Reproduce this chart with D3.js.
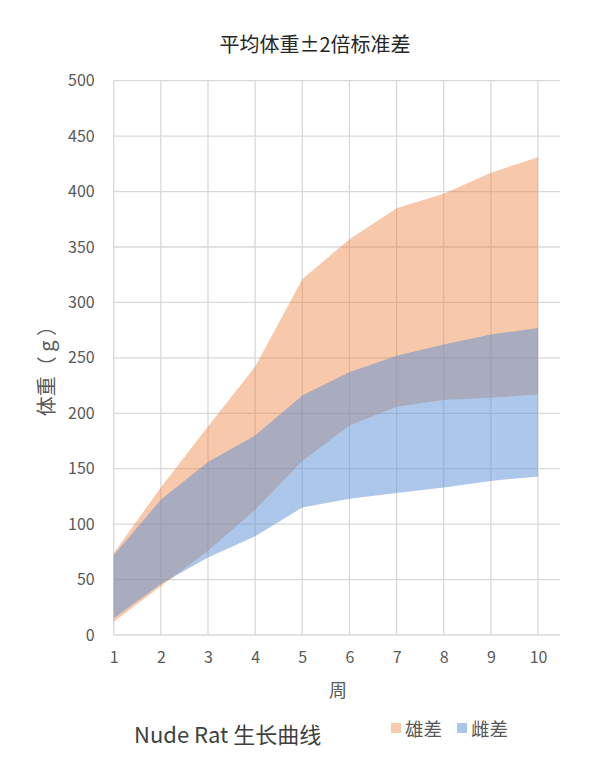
<!DOCTYPE html>
<html>
<head>
<meta charset="utf-8">
<script src="https://cdn.jsdelivr.net/npm/d3@7"></script>
<style>
  body { margin: 0; background: #fff; }
  text { font-family: "Noto Sans CJK SC", "Noto Sans", sans-serif; }
</style>
</head>
<body>
<div id="chart"></div>
<script>
// weeks and band limits (mean ± 2SD)
var weeks = [1, 2, 3, 4, 5, 6, 7, 8, 9, 10];
var maleUpper = [74, 133, 188, 242, 321, 357, 385, 398, 417, 431];
var maleLower = [12, 44, 76, 113, 157, 189, 206, 212, 214, 217];
var femaleUpper = [72, 122, 156, 180, 216, 237, 252, 262, 271, 277];
var femaleLower = [15, 46, 70, 89, 115, 123, 128, 133, 139, 143];
var yTicks = [0, 50, 100, 150, 200, 250, 300, 350, 400, 450, 500];
var legendNames = ["雄差", "雌差"];

var width = 593, height = 776;
// note: "top" is taken by window.top, so plot* names
var plotLeft = 113.7, plotRight = 538, plotTop = 80.7, plotBottom = 635, gridEnd = 560;

var svg = d3.select("#chart").append("svg")
  .attr("width", width)
  .attr("height", height);

var x = d3.scaleLinear().domain([1, 10]).range([plotLeft, plotRight]);
var y = d3.scaleLinear().domain([0, 500]).range([plotBottom, plotTop]);

// grid
svg.append("g").selectAll("line")
  .data(yTicks)
  .enter().append("line")
    .attr("x1", plotLeft).attr("x2", gridEnd)
    .attr("y1", function(d) { return y(d); })
    .attr("y2", function(d) { return y(d); })
    .attr("stroke", "#d9d9d9")
    .attr("stroke-width", 1.3);

svg.append("g").selectAll("line")
  .data(weeks)
  .enter().append("line")
    .attr("x1", function(d) { return x(d); })
    .attr("x2", function(d) { return x(d); })
    .attr("y1", plotTop).attr("y2", plotBottom)
    .attr("stroke", "#d9d9d9")
    .attr("stroke-width", 1.3);

// bands
function band(lo, hi) {
  return d3.area()
    .x(function(d, i) { return x(weeks[i]); })
    .y0(function(d, i) { return y(lo[i]); })
    .y1(function(d, i) { return y(hi[i]); })(weeks);
}

svg.append("path")
  .attr("d", band(maleLower, maleUpper))
  .attr("fill", "#ED7D31")
  .attr("fill-opacity", 0.42);

svg.append("path")
  .attr("d", band(femaleLower, femaleUpper))
  .attr("fill", "#5B8FD6")
  .attr("fill-opacity", 0.5);

// axes
var yAxis = svg.append("g")
  .attr("transform", "translate(" + (plotLeft - 16) + ",0)")
  .call(d3.axisLeft(y).tickValues(yTicks).tickSize(0));
yAxis.select(".domain").remove();
yAxis.selectAll("text")
  .attr("fill", "#595959")
  .attr("font-size", 16)
  .attr("font-family", "'Open Sans', 'Noto Sans', sans-serif");

var xAxis = svg.append("g")
  .attr("transform", "translate(0," + (plotBottom + 14) + ")")
  .call(d3.axisBottom(x).tickValues(weeks).tickFormat(d3.format("d")).tickSize(0));
xAxis.select(".domain").remove();
xAxis.selectAll("text")
  .attr("fill", "#595959")
  .attr("font-size", 16)
  .attr("font-family", "'Open Sans', 'Noto Sans', sans-serif");

// titles
svg.append("text")
  .attr("x", 315).attr("y", 52)
  .attr("text-anchor", "middle")
  .attr("font-size", 20)
  .attr("fill", "#262626")
  .text("平均体重±2倍标准差");

svg.append("text")
  .attr("transform", "translate(54,366) rotate(-90)")
  .attr("text-anchor", "middle")
  .attr("font-size", 20)
  .attr("fill", "#595959")
  .text("体重（ g ）");

svg.append("text")
  .attr("x", 338).attr("y", 697)
  .attr("text-anchor", "middle")
  .attr("font-size", 18)
  .attr("fill", "#595959")
  .text("周");

svg.append("text")
  .attr("x", 134).attr("y", 743)
  .attr("font-size", 22)
  .attr("fill", "#404040")
  .text("Nude Rat  生长曲线");

// legend
var legendColors = ["#F8CBAA", "#ABC4EA"];
var legend = svg.append("g").selectAll("g")
  .data(legendNames)
  .enter().append("g")
    .attr("transform", function(d, i) { return "translate(" + (391 + i * 66) + ",723)"; });
legend.append("rect")
  .attr("width", 10).attr("height", 10)
  .attr("fill", function(d, i) { return legendColors[i]; });
legend.append("text")
  .attr("x", 14).attr("y", 12.5)
  .attr("font-size", 18.5)
  .attr("fill", "#595959")
  .text(function(d) { return d; });
</script>
</body>
</html>
